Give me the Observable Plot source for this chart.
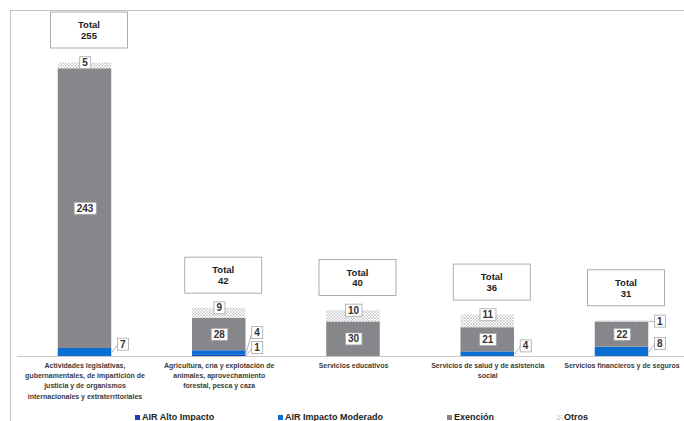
<!DOCTYPE html>
<html><head><meta charset="utf-8">
<script src="https://cdn.jsdelivr.net/npm/d3@7"></script>
<script src="https://cdn.jsdelivr.net/npm/@observablehq/plot@0.6"></script>
<style>
html,body{margin:0;padding:0;background:#fff;overflow:hidden;width:684px;height:421px;}
#frame{position:absolute;left:10px;top:10px;width:700px;height:450px;border-top:1px solid #c4c4c4;border-left:1px solid #c4c4c4;}
#chart{position:absolute;left:0;top:0;}
#legend{position:absolute;left:0;top:411px;width:684px;height:12px;font:bold 9px "Liberation Sans",Arial,sans-serif;color:#222;}
.item{position:absolute;top:0;display:flex;align-items:center;white-space:nowrap;line-height:12px;}
.sw{width:5px;height:5px;margin-right:2px;display:inline-block;}
</style></head><body>
<div id="frame"></div><div id="chart"></div><div id="legend"></div>
<script>
// ---- data ----
const categories = [
  "Actividades legislativas, gubernamentales, de impartición de justicia y de organismos internacionales y extraterritoriales",
  "Agricultura, cría y explotación de animales, aprovechamiento forestal, pesca y caza",
  "Servicios educativos",
  "Servicios de salud y de asistencia social",
  "Servicios financieros y de seguros"
];
const tickLabels = [
  "Actividades legislativas,\ngubernamentales, de impartición de\njusticia y de organismos\ninternacionales y extraterritoriales",
  "Agricultura, cría y explotación de\nanimales, aprovechamiento\nforestal, pesca y caza",
  "Servicios educativos",
  "Servicios de salud y de asistencia\nsocial",
  "Servicios financieros y de seguros"
];
const seriesNames = ["AIR Alto Impacto", "AIR Impacto Moderado", "Exención", "Otros"];
const altoImpacto     = [0, 1, 0, 0, 0];
const impactoModerado = [7, 4, 0, 4, 8];
const exencion        = [243, 28, 30, 21, 22];
const otros           = [5, 9, 10, 11, 1];

// ---- styles ----
const colors = ["#1a3fbf", "#0a6fd0", "#87878b", "url(#hatchOtros)"];
const legendLeft = [135, 278, 447, 557];
const FONT = '"Liberation Sans", Arial, sans-serif';

const seriesValues = [altoImpacto, impactoModerado, exencion, otros];
const idx = categories.map((c, i) => i);
const totals = idx.map(i => d3.sum(seriesValues, v => v[i]));

const segments = [];
idx.forEach(i => {
  let acc = 0;
  seriesValues.forEach((vals, s) => {
    const v = vals[i];
    if (v > 0) segments.push({i, s, v, y1: acc, y2: acc + v, mid: acc + v / 2});
    acc += v;
  });
});

const xDomain = [0, categories.length - 1], xRange = [84.5, 621.5];
const yDomain = [0, d3.max(totals)], yRange = [356, 62.5];
const xs = d3.scaleLinear(xDomain, xRange), ys = d3.scaleLinear(yDomain, yRange);
const half = xs.invert(xs(0) + 26.75) - xs.invert(xs(0));

const centerLabels = [], topLabels = [], outLabels = [];
idx.forEach(i => {
  const outs = [];
  segments.filter(d => d.i === i).forEach(d => {
    if (d.s === 2) centerLabels.push({i, v: d.v, y: d.mid});
    else if (d.s === 3 && d.v >= 3) topLabels.push({i, v: d.v, y: d.y2});
    else outs.push({i, v: d.v, mid: d.mid, yc: d.s === 3 ? ys(d.mid) : ys(d.mid) - 8});
  });
  outs.sort((a, b) => b.yc - a.yc);
  outs.forEach((o, k) => { if (k > 0 && o.yc > outs[k - 1].yc - 15) o.yc = outs[k - 1].yc - 15; });
  outs.forEach(o => {
    const xr = i + half;
    outLabels.push({i, v: o.v, x: xr, y: ys.invert(o.yc), ly1: o.mid, lx2: xs.invert(xs(xr) + 6)});
  });
});

const marks = [];
seriesValues.forEach((vals, k) => {
  marks.push(Plot.rect(segments.filter(d => d.s === k), {
    x1: d => d.i - half, x2: d => d.i + half, y1: "y1", y2: "y2", fill: colors[k]
  }));
});
marks.push(Plot.ruleY([0], {stroke: "#c8c8c8"}));
marks.push(Plot.link(outLabels, {x1: "x", y1: "ly1", x2: "lx2", y2: "y", stroke: "#a0a0a0", strokeWidth: 0.8}));
const lblOpts = {text: d => String(d.v), fontWeight: "bold", fontSize: 10, fill: "#333", ariaDescription: "vlabel"};
marks.push(Plot.text(centerLabels, {x: "i", y: "y", ...lblOpts}));
marks.push(Plot.text(topLabels, {x: "i", y: "y", ...lblOpts}));
marks.push(Plot.text(outLabels, {x: "x", y: "y", dx: 11, ...lblOpts}));
marks.push(Plot.text(idx.map(i => ({i, t: totals[i]})), {
  x: "i", y: "t", dx: 4, dy: -33, text: d => `Total\n${d.t}`, lineHeight: 1.15,
  fontSize: 9.5, fontWeight: "bold", fill: "#222", ariaDescription: "total"
}));
marks.push(Plot.text(idx, {
  x: i => i, y: () => 0, text: i => tickLabels[i], lineAnchor: "top", dy: 4,
  fontSize: 7, lineHeight: 1.47, fontWeight: "bold", fill: "#3c3c3c"
}));

const svg = Plot.plot({
  width: 684, height: 405,
  marginLeft: 17, marginRight: 0, marginTop: 0, marginBottom: 0,
  x: {type: "linear", domain: xDomain, range: xRange, axis: null},
  y: {type: "linear", domain: yDomain, range: yRange, axis: null},
  style: {background: "transparent", fontFamily: FONT, overflow: "visible"},
  marks
});
document.getElementById("chart").append(svg);

// pattern for "Otros"
const NS = "http://www.w3.org/2000/svg";
const defs = document.createElementNS(NS, "defs");
const pat = document.createElementNS(NS, "pattern");
pat.setAttribute("id", "hatchOtros"); pat.setAttribute("width", "3"); pat.setAttribute("height", "3");
pat.setAttribute("patternUnits", "userSpaceOnUse");
const pr = document.createElementNS(NS, "rect");
pr.setAttribute("width", "3"); pr.setAttribute("height", "3"); pr.setAttribute("fill", "#fff");
const pp = document.createElementNS(NS, "path");
pp.setAttribute("d", "M0,0L3,3M3,0L0,3"); pp.setAttribute("stroke", "#b4b4b4"); pp.setAttribute("stroke-width", "0.55");
pat.append(pr, pp); defs.append(pat); svg.insertBefore(defs, svg.firstChild);

// label boxes
function boxFor(t, fixed) {
  const b = t.getBBox();
  const r = document.createElementNS(NS, "rect");
  let x, y, w, h;
  if (fixed) { w = 77; h = 36; x = b.x + b.width / 2 - w / 2; y = b.y + b.height / 2 - h / 2; }
  else { x = b.x - 2.5; y = b.y - 0.5; w = b.width + 5; h = b.height + 1; }
  r.setAttribute("x", x); r.setAttribute("y", y); r.setAttribute("width", w); r.setAttribute("height", h);
  r.setAttribute("fill", "#fff"); r.setAttribute("stroke", fixed ? "#9a9a9a" : "#a6a6a6");
  r.setAttribute("stroke-width", "0.8");
  const tr = t.getAttribute("transform"); if (tr) r.setAttribute("transform", tr);
  t.parentNode.insertBefore(r, t);
}
svg.querySelectorAll('g[aria-description="vlabel"] text').forEach(t => boxFor(t, false));
svg.querySelectorAll('g[aria-description="total"] text').forEach(t => boxFor(t, true));

// legend
const legend = document.getElementById("legend");
seriesNames.forEach((name, k) => {
  const it = document.createElement("div");
  it.className = "item"; it.style.left = legendLeft[k] + "px";
  const sw = document.createElement("span"); sw.className = "sw";
  sw.style.background = k === 3 ? "repeating-linear-gradient(45deg,#bbb 0 0.8px,#fff 0.8px 2px)" : colors[k];
  const tx = document.createElement("span"); tx.textContent = name;
  it.append(sw, tx); legend.append(it);
});
</script></body></html>
